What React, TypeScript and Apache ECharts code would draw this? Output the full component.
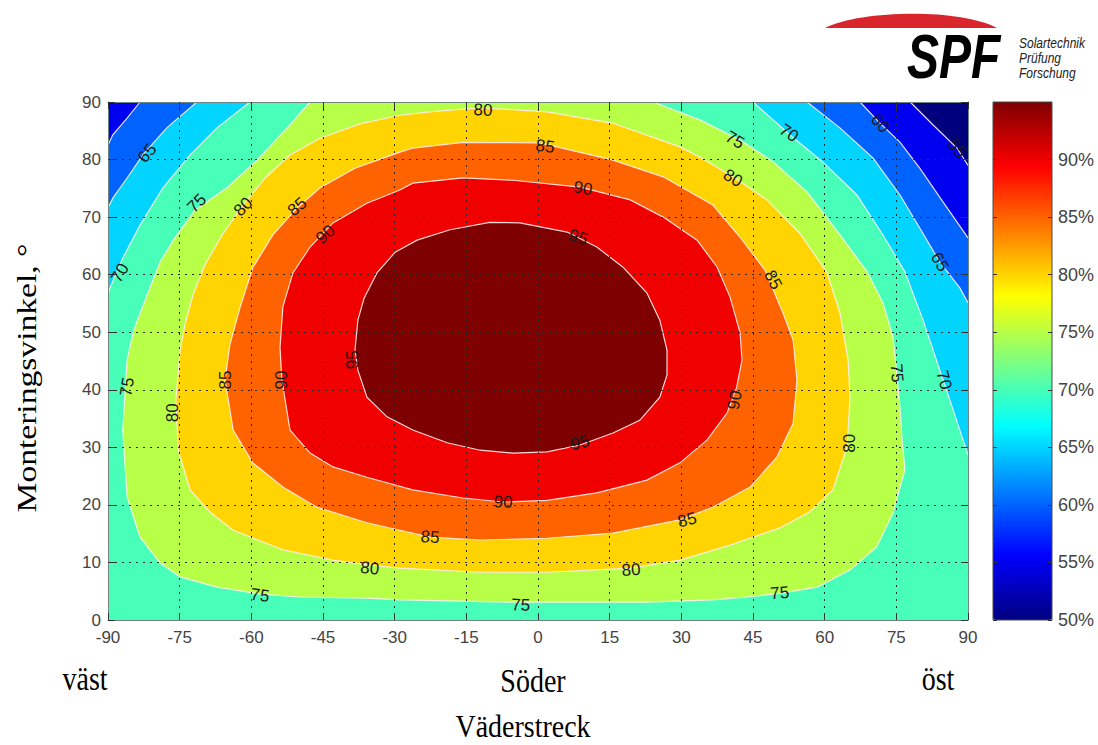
import React, { useEffect, useRef } from "react";
import * as echarts from "echarts";

// Axis ranges and tick steps
const azimuthRange = [-90, 90];
const tiltRange = [0, 90];
const colorRange = [50, 95];

// Contour lines: [azimuth °, tilt °]
const contour95 = [
  [-38.3, 46.9], [-37.7, 52.1], [-36.4, 55.9], [-33.7, 60.3], [-29.9, 63.9], [-25.3, 66.0], [-18.4, 67.8],
  [-10.1, 69.1], [-3.8, 69.0], [6.1, 67.4], [12.3, 64.8], [17.8, 61.3], [22.8, 56.8], [25.5, 52.1], [27.0, 46.9],
  [27.0, 42.6], [25.5, 38.7], [21.3, 34.7], [15.7, 32.5], [8.8, 30.4], [1.9, 29.2], [-5.2, 29.0], [-12.1, 29.5],
  [-19.0, 30.8], [-26.2, 33.0], [-31.6, 35.3], [-35.8, 38.7], [-37.7, 43.4],
];
const contour90 = [
  [-28.9, 74.7], [-35.8, 72.4], [-42.9, 69.0], [-47.7, 64.8], [-51.3, 60.3], [-53.4, 54.4], [-54.0, 47.4],
  [-53.6, 41.7], [-51.9, 33.0], [-47.7, 29.0], [-42.9, 26.6], [-35.8, 24.8], [-26.2, 22.6], [-15.7, 21.2],
  [-7.3, 20.5], [1.9, 20.8], [12.3, 22.1], [22.8, 24.3], [29.7, 27.3], [35.4, 31.3], [39.6, 36.0], [41.6, 40.5],
  [42.7, 45.2], [42.3, 49.9], [40.2, 56.1], [37.5, 61.3], [33.3, 66.0], [26.2, 70.0], [19.3, 73.0], [8.8, 75.2],
  [-5.2, 76.4], [-15.7, 76.8], [-26.2, 75.9],
];
const contour85 = [
  [-28.9, 81.3], [-38.3, 78.5], [-45.6, 75.1], [-50.4, 71.6], [-55.5, 66.9], [-59.7, 61.2], [-62.4, 54.2],
  [-64.5, 47.8], [-65.5, 41.7], [-63.8, 33.0], [-59.7, 27.3], [-53.4, 23.1], [-46.3, 19.6], [-35.8, 16.9],
  [-28.9, 15.6], [-22.6, 14.4], [-12.1, 13.9], [1.9, 14.2], [15.7, 15.1], [29.7, 17.4], [36.6, 19.6], [44.4, 23.1],
  [50.0, 28.3], [53.4, 34.2], [54.2, 41.7], [53.4, 48.6], [51.3, 53.3], [47.5, 60.8], [42.3, 66.5], [36.6, 72.1],
  [26.2, 77.0], [15.7, 79.9], [0.4, 82.9], [-15.7, 83.0], [-26.2, 82.0],
];
const contour80 = [
  [-28.9, 87.7], [-37.3, 86.2], [-45.6, 83.7], [-51.9, 80.8], [-57.1, 76.8], [-61.7, 72.1], [-66.1, 66.9],
  [-69.7, 61.7], [-72.2, 56.5], [-73.9, 51.3], [-74.9, 46.9], [-75.8, 38.2], [-75.3, 29.5], [-72.8, 22.6],
  [-68.7, 18.8], [-63.8, 15.6], [-53.4, 12.2], [-42.9, 10.4], [-35.8, 9.6], [-28.9, 9.0], [-12.1, 8.3], [1.9, 8.3],
  [19.3, 9.0], [29.7, 10.4], [40.2, 13.0], [50.6, 16.0], [56.9, 18.8], [61.7, 22.6], [64.7, 30.1], [65.3, 38.7],
  [64.9, 45.2], [63.2, 53.3], [60.5, 60.3], [54.8, 67.2], [47.9, 73.0], [40.8, 77.0], [33.9, 80.4], [29.7, 82.2],
  [15.7, 86.3], [1.9, 88.3], [-12.1, 89.0], [-22.6, 88.3],
];
const contour75 = [
  [-47.7, 90], [-52.5, 85.5], [-58.8, 79.9], [-65.1, 75.1], [-71.8, 71.2], [-76.0, 66.4], [-79.1, 62.2],
  [-81.8, 56.5], [-84.6, 50.4], [-86.0, 45.2], [-86.4, 40.0], [-86.9, 33.0], [-86.0, 21.4], [-83.3, 14.4],
  [-79.1, 9.9], [-74.9, 7.5], [-67.2, 5.7], [-58.2, 4.5], [-49.8, 4.0], [-35.8, 3.8], [-28.9, 3.5], [-5.2, 3.1],
  [22.8, 3.1], [36.6, 3.5], [43.7, 4.0], [51.3, 4.7], [58.4, 5.7], [65.3, 8.7], [70.9, 12.7], [74.3, 18.6],
  [76.8, 26.1], [76.2, 31.3], [75.8, 36.5], [75.1, 42.9], [74.3, 49.2], [72.2, 55.1], [68.9, 60.5], [63.2, 66.9],
  [56.3, 74.4], [49.2, 79.6], [42.3, 83.4], [33.9, 86.9], [24.1, 90],
];
const contour70West = [
  [-60.3, 90], [-67.2, 85.5], [-72.8, 80.8], [-78.5, 75.1], [-83.3, 68.6], [-86.9, 62.9], [-89.6, 57.7], [-90, 56.5],
];
const contour65West = [[-71.4, 90], [-77.7, 85.5], [-82.7, 80.8], [-86.0, 76.8], [-89.0, 73.3], [-90, 71.6]];
const contour60West = [[-83.3, 90], [-86.0, 87.2], [-89.0, 84.3], [-90, 82.5]];
const contour70East = [
  [45.0, 90], [52.7, 84.3], [59.6, 79.6], [66.8, 73.8], [72.2, 66.9], [76.8, 60.5], [80.6, 52.1], [84.1, 43.4],
  [86.9, 36.5], [90, 28.7],
];
const contour65East = [[56.3, 90], [63.2, 85.5], [70.1, 80.3], [75.8, 73.8], [79.9, 68.1], [84.1, 62.2], [88.3, 57.7], [90, 55.1]];
const contour60East = [[67.4, 90], [71.6, 86.3], [75.8, 83.0], [79.9, 78.5], [84.8, 72.6], [90, 66.4]];
const contour55East = [[77.9, 90], [82.7, 86.0], [87.7, 82.0], [90, 79.0]];

// Contour labels: [azimuth, tilt, level, rotation°]
const contourLabels = [
  [-11.5, 88.6, 80, -3], [1.5, 82.3, 85, -8], [9.4, 75.0, 90, -10], [8.4, 66.5, 95, -18],
  [41.2, 83.4, 75, -30], [52.5, 84.6, 70, -35], [71.6, 86.3, 60, -48], [87.7, 82.0, 55, -52],
  [40.8, 76.8, 80, -32], [49.2, 59.1, 85, -62], [84.1, 62.2, 65, -60],
  [75.1, 42.9, 75, -85], [85.0, 41.7, 70, -75], [65.3, 30.7, 80, 90], [41.2, 38.2, 90, 80],
  [-81.8, 81.1, 65, 50], [-71.4, 72.4, 75, 45], [-61.7, 71.8, 80, 45], [-50.4, 71.8, 85, 40],
  [-44.5, 67.0, 90, 40], [-87.5, 60.3, 70, 60],
  [-86.0, 40.5, 75, 80], [-76.4, 36.0, 80, 90], [-65.5, 41.7, 85, 90], [-53.6, 41.7, 90, 90], [-38.9, 45.2, 95, 90],
  [-58.2, 4.3, 75, -8], [-35.2, 9.0, 80, -6], [-22.6, 14.4, 85, -4], [-7.3, 20.5, 90, -2], [8.8, 30.8, 95, 15],
  [-3.6, 2.6, 75, -2], [19.5, 8.7, 80, 4], [31.2, 17.4, 85, 14], [50.6, 4.7, 75, 5],
];

const jetColors = ["#00007f", "#0000ff", "#007fff", "#00ffff", "#7fff7f", "#ffff00", "#ff7f00", "#ff0000", "#7f0000"];

const sansFont = '"Liberation Sans", Arial, Helvetica, sans-serif';
const serifFont = '"Liberation Serif", "Times New Roman", Times, serif';

const [azMin, azMax] = azimuthRange;
const [tMin, tMax] = tiltRange;

// filled regions: level = lower bound of the band colour
const bands = [
  { level: 70, poly: [[azMin, tMin], [azMax, tMin], [azMax, tMax], [azMin, tMax]], line: null },
  { level: 75, poly: contour75, line: contour75 },
  { level: 80, poly: contour80, line: [...contour80, contour80[0]] },
  { level: 85, poly: contour85, line: [...contour85, contour85[0]] },
  { level: 90, poly: contour90, line: [...contour90, contour90[0]] },
  { level: 95, poly: contour95, line: [...contour95, contour95[0]] },
  { level: 65, poly: [...contour70West, [azMin, tMax]], line: contour70West },
  { level: 60, poly: [...contour65West, [azMin, tMax]], line: contour65West },
  { level: 55, poly: [...contour60West, [azMin, tMax]], line: contour60West },
  { level: 65, poly: [...contour70East, [azMax, tMax]], line: contour70East },
  { level: 60, poly: [...contour65East, [azMax, tMax]], line: contour65East },
  { level: 55, poly: [...contour60East, [azMax, tMax]], line: contour60East },
  { level: 50, poly: [...contour55East, [azMax, tMax]], line: contour55East },
];

echarts.graphic.registerShape(
  "spfArc",
  echarts.graphic.extendPath("M825 28 C 860 10, 960 8, 997 28 Z", {})
);

export default function App() {
  const ref = useRef<HTMLDivElement>(null);
  useEffect(() => {
    document.body.style.margin = "0";
    if (!ref.current) return;
    const chart = echarts.init(ref.current, undefined, { renderer: "svg" });
    const tickColor = "#333";
    const frame = "#6f8580";
    const plotAxisBase = {
      type: "value",
      gridIndex: 0,
      z: 5,
      axisLine: { show: true, onZero: false, lineStyle: { color: frame, width: 1 } },
      axisTick: { show: true, inside: true, length: 7, lineStyle: { color: tickColor } },
    };
    const centered = { align: "center", verticalAlign: "middle", textAlign: "center", textVerticalAlign: "middle" };
    const leftMid = { align: "left", verticalAlign: "middle", textAlign: "left", textVerticalAlign: "middle" };
    chart.setOption({
      animation: false,
      backgroundColor: "#ffffff",
      grid: [
        { left: 108, top: 102, width: 860, height: 518, show: false },
        { left: 993, top: 102, width: 59, height: 518, show: true, borderColor: "#4a4a4a", borderWidth: 1, backgroundColor: "transparent", z: 10 },
      ],
      xAxis: [
        {
          ...plotAxisBase, position: "bottom", min: azMin, max: azMax, interval: 15,
          axisLabel: { color: "#444", fontSize: 17, fontFamily: sansFont, margin: 9 },
          splitLine: { show: true, lineStyle: { color: "#2a2a2a", type: [2, 5], width: 1 } },
        },
        {
          ...plotAxisBase, position: "top", min: azMin, max: azMax, interval: 15,
          axisLabel: { show: false }, splitLine: { show: false },
        },
        { type: "value", gridIndex: 1, min: 0, max: 1, show: false },
      ],
      yAxis: [
        {
          ...plotAxisBase, position: "left", min: tMin, max: tMax, interval: 10,
          axisLabel: { color: "#444", fontSize: 17, fontFamily: sansFont, margin: 7 },
          splitLine: { show: true, lineStyle: { color: "#2a2a2a", type: [2, 5], width: 1 } },
        },
        {
          ...plotAxisBase, position: "right", min: tMin, max: tMax, interval: 10,
          axisLabel: { show: false }, splitLine: { show: false },
        },
        {
          type: "value", gridIndex: 1, position: "right", min: colorRange[0], max: colorRange[1], interval: 5, z: 10,
          axisLine: { show: false, onZero: false },
          axisTick: { show: true, inside: true, length: 4, lineStyle: { color: "#333" } },
          axisLabel: {
            color: "#444", fontSize: 18, fontFamily: sansFont, margin: 6,
            formatter: (v: number) => (v >= colorRange[1] ? "" : v + "%"),
          },
          splitLine: { show: false },
        },
        {
          type: "value", gridIndex: 1, position: "left", min: colorRange[0], max: colorRange[1], interval: 5, z: 10,
          axisLine: { show: false, onZero: false },
          axisTick: { show: true, inside: true, length: 4, lineStyle: { color: "#333" } },
          axisLabel: { show: false },
          splitLine: { show: false },
        },
      ],
      visualMap: {
        type: "continuous",
        min: colorRange[0],
        max: colorRange[1],
        seriesIndex: 0,
        dimension: 0,
        left: 993,
        top: 102,
        itemWidth: 59,
        itemHeight: 518,
        padding: 0,
        calculable: false,
        hoverLink: false,
        inRange: { color: jetColors },
      },
      series: [
        {
          type: "custom",
          xAxisIndex: 0,
          yAxisIndex: 0,
          silent: true,
          z: 2,
          data: bands.map((b, i) => [b.level, i]),
          renderItem: (params: any, api: any) => {
            const band = bands[params.dataIndex];
            const color = api.visual("color");
            const children: any[] = [
              { type: "polygon", shape: { points: band.poly.map((p) => api.coord(p)) }, style: { fill: color } },
            ];
            if (band.line) {
              children.push({
                type: "polyline",
                shape: { points: band.line.map((p) => api.coord(p)) },
                style: { stroke: "rgba(255,238,238,0.9)", lineWidth: 1.2, fill: null },
              });
            }
            return { type: "group", children };
          },
        },
        {
          type: "custom",
          xAxisIndex: 0,
          yAxisIndex: 0,
          silent: true,
          z: 8,
          data: contourLabels,
          renderItem: (params: any, api: any) => {
            const pt = api.coord([api.value(0), api.value(1)]);
            return {
              type: "text",
              x: pt[0],
              y: pt[1],
              rotation: (api.value(3) * Math.PI) / 180,
              style: {
                text: String(api.value(2)),
                fill: "#1a1a1a",
                font: `17px ${sansFont}`,
                ...centered,
              },
            };
          },
        },
      ],
      graphic: [
        { type: "spfArc", x: 0, y: 0, style: { fill: "#d8262c" } },
        {
          type: "text", x: 907, y: 57, scaleY: 1.3,
          style: { text: "SPF", font: `italic bold 48px ${sansFont}`, fill: "#000", ...leftMid },
        },
        {
          type: "text", x: 1019, y: 43, scaleY: 1.25,
          style: { text: "Solartechnik", font: `italic 12px ${sansFont}`, fill: "#222", ...leftMid },
        },
        {
          type: "text", x: 1019, y: 58, scaleY: 1.25,
          style: { text: "Prüfung", font: `italic 12px ${sansFont}`, fill: "#222", ...leftMid },
        },
        {
          type: "text", x: 1019, y: 73, scaleY: 1.25,
          style: { text: "Forschung", font: `italic 12px ${sansFont}`, fill: "#222", ...leftMid },
        },
        {
          type: "text", x: 26, y: 378, rotation: Math.PI / 2, scaleX: 1.2,
          style: { text: "Monteringsvinkel, °", font: `28px ${serifFont}`, fill: "#000", ...centered },
        },
        {
          type: "text", x: 85, y: 679, scaleY: 1.2,
          style: { text: "väst", font: `28px ${serifFont}`, fill: "#000", ...centered },
        },
        {
          type: "text", x: 533, y: 681, scaleY: 1.2,
          style: { text: "Söder", font: `28px ${serifFont}`, fill: "#000", ...centered },
        },
        {
          type: "text", x: 938, y: 679, scaleY: 1.2,
          style: { text: "öst", font: `28px ${serifFont}`, fill: "#000", ...centered },
        },
        {
          type: "text", x: 523, y: 726, scaleY: 1.15,
          style: { text: "Väderstreck", font: `28px ${serifFont}`, fill: "#000", ...centered },
        },
      ],
    });
    return () => chart.dispose();
  }, []);
  return <div ref={ref} style={{ width: 1098, height: 745 }} />;
}
